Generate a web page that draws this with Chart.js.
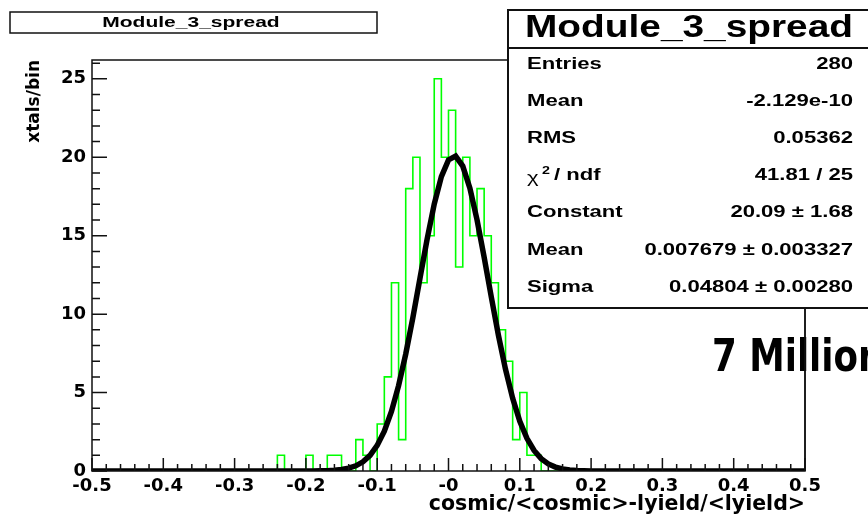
<!DOCTYPE html>
<html>
<head>
<meta charset="utf-8">
<script src="https://cdn.jsdelivr.net/npm/chart.js@4/dist/chart.umd.min.js"></script>
<style>
  body { margin: 0; background: #fff; }
  canvas { display: block; }
</style>
</head>
<body>
<canvas id="grafico" width="868" height="515"></canvas>
<script>
// histogram: low edge of each filled bin (width 0.01) and its count
const binWidth = 0.01;
const binLow = [-0.24, -0.20, -0.17, -0.16, -0.13, -0.12, -0.10, -0.09, -0.08, -0.07,
                -0.06, -0.05, -0.04, -0.03, -0.02, -0.01, 0.00, 0.01, 0.02, 0.03,
                0.04, 0.05, 0.06, 0.07, 0.08, 0.09, 0.10, 0.11, 0.12];
const binCount = [1, 1, 1, 1, 2, 1, 3, 6, 12, 2,
                  18, 20, 12, 15, 25, 20, 23, 13, 20, 15,
                  18, 15, 12, 9, 7, 2, 5, 1, 1];

// gaussian fit curve
const fitX = [-0.5, -0.20, -0.19, -0.18, -0.17, -0.16, -0.15, -0.14, -0.13, -0.12, -0.11,
              -0.10, -0.09, -0.08, -0.07, -0.06, -0.05, -0.04, -0.03, -0.02, -0.01,
              0.00, 0.01, 0.02, 0.03, 0.04, 0.05, 0.06, 0.07, 0.08, 0.09,
              0.10, 0.11, 0.12, 0.13, 0.14, 0.15, 0.16, 0.17, 0.18, 0.19, 0.20, 0.5];
const fitY = [0, 0.002, 0.004, 0.010, 0.022, 0.045, 0.092, 0.178, 0.331, 0.587, 0.999,
              1.63, 2.54, 3.80, 5.44, 7.45, 9.77, 12.28, 14.77, 17.02, 18.77,
              19.83, 20.07, 19.44, 18.03, 16.02, 13.63, 11.10, 8.66, 6.47, 4.63,
              3.17, 2.08, 1.31, 0.786, 0.452, 0.250, 0.132, 0.067, 0.032, 0.015, 0.007, 0];

const xTickLabels = ['-0.5', '-0.4', '-0.3', '-0.2', '-0.1', '-0', '0.1', '0.2', '0.3', '0.4', '0.5'];
const yTickLabels = ['0', '5', '10', '15', '20', '25'];

const histTitle = 'Module_3_spread';
const statNames = ['Entries', 'Mean', 'RMS', 'chi2', 'Constant', 'Mean', 'Sigma'];
const statValues = ['280', '-2.129e-10', '0.05362', '41.81 / 25', '20.09 \u00b1 1.68',
                    '0.007679 \u00b1 0.003327', '0.04804 \u00b1 0.00280'];
const sideNote = '7 Million';

// build the step outline of the histogram
const histPoints = [{ x: -0.5, y: 0 }];
let prevHi = -0.5;
binLow.forEach(function (lo, i) {
    const hi = Math.round((lo + binWidth) * 1000) / 1000;
    if (Math.abs(lo - prevHi) > 1e-6) {
        histPoints.push({ x: prevHi, y: 0 }, { x: lo, y: 0 });
    }
    histPoints.push({ x: lo, y: binCount[i] }, { x: hi, y: binCount[i] });
    prevHi = hi;
});
histPoints.push({ x: prevHi, y: 0 }, { x: 0.5, y: 0 });

const fitPoints = fitX.map(function (x, i) { return { x: x, y: fitY[i] }; });

const HELV = '"Liberation Sans", Arial, sans-serif';

function stretchText(ctx, text, x, y, font, sx, align) {
    ctx.save();
    ctx.font = font;
    ctx.textAlign = align;
    ctx.textBaseline = 'middle';
    ctx.translate(x, y);
    ctx.scale(sx, 1);
    ctx.fillText(text, 0, 0);
    ctx.restore();
}

const rootPlugin = {
    id: 'rootFrame',
    afterDatasetsDraw(chart) {
        const ctx = chart.ctx;
        const a = chart.chartArea;
        const x = chart.scales.x;
        const y = chart.scales.y;
        ctx.save();
        ctx.strokeStyle = '#111';
        ctx.lineWidth = 1.5;
        ctx.strokeRect(a.left, a.top, a.right - a.left, a.bottom - a.top);
        ctx.beginPath();
        for (let k = 0; k <= 50; k++) {
            const px = x.getPixelForValue(-0.5 + k * 0.02);
            const len = k % 5 === 0 ? 13 : 7;
            ctx.moveTo(px, a.bottom);
            ctx.lineTo(px, a.bottom - len);
        }
        for (let k = 0; k <= 26; k++) {
            const py = y.getPixelForValue(k);
            const len = k % 5 === 0 ? 15 : 8;
            ctx.moveTo(a.left, py);
            ctx.lineTo(a.left + len, py);
        }
        ctx.stroke();
        ctx.restore();
    },
    afterDraw(chart) {
        const ctx = chart.ctx;
        ctx.save();

        // title box top left
        ctx.fillStyle = '#fff';
        ctx.fillRect(10, 12, 367, 21);
        ctx.strokeStyle = '#111';
        ctx.lineWidth = 1.5;
        ctx.strokeRect(10, 12, 367, 21);
        ctx.fillStyle = '#000';
        stretchText(ctx, histTitle, 191, 22.5, 'bold 15px ' + HELV, 1.4, 'center');

        // stats box
        ctx.fillStyle = '#fff';
        ctx.fillRect(508, 10, 380, 298);
        ctx.lineWidth = 2;
        ctx.strokeRect(508, 10, 380, 298);
        ctx.beginPath();
        ctx.moveTo(508, 48);
        ctx.lineTo(870, 48);
        ctx.stroke();
        ctx.fillStyle = '#000';
        ctx.font = 'bold 32px ' + HELV;
        const tw = ctx.measureText(histTitle).width;
        stretchText(ctx, histTitle, 689, 28, 'bold 32px ' + HELV, 328 / tw, 'center');

        const rowY = [65, 102, 138.5, 176, 213, 250.5, 287.5];
        const rowFont = 'bold 16px ' + HELV;
        const sx = 1.38;
        statNames.forEach(function (name, i) {
            if (name === 'chi2') {
                stretchText(ctx, '\u03c7', 527, rowY[i] + 2, '17px ' + HELV, 1.3, 'left');
                stretchText(ctx, '2', 542, rowY[i] - 5, 'bold 11px ' + HELV, 1.3, 'left');
                stretchText(ctx, '/ ndf', 554, rowY[i], rowFont, sx, 'left');
            } else {
                stretchText(ctx, name, 527, rowY[i], rowFont, sx, 'left');
            }
            stretchText(ctx, statValues[i], 853, rowY[i], rowFont, sx, 'right');
        });

        // note on the right
        ctx.font = 'bold 44px "DejaVu Sans Condensed", "DejaVu Sans", sans-serif';
        const nw = ctx.measureText('7 Millio').width;
        ctx.save();
        ctx.translate(712, 371);
        ctx.scale(146 / nw, 1);
        ctx.textBaseline = 'alphabetic';
        ctx.textAlign = 'left';
        ctx.fillText(sideNote, 0, 0);
        ctx.restore();

        // frame edge redrawn over the note
        ctx.strokeStyle = '#111';
        ctx.lineWidth = 1.5;
        ctx.beginPath();
        ctx.moveTo(chart.chartArea.right, 309);
        ctx.lineTo(chart.chartArea.right, chart.chartArea.bottom);
        ctx.stroke();
        ctx.restore();
    }
};

const tickFont = { family: '"DejaVu Sans", sans-serif', weight: 'bold', size: 18 };

new Chart(document.getElementById('grafico'), {
    type: 'line',
    data: {
        datasets: [
            {
                label: 'fit',
                data: fitPoints,
                borderColor: '#000',
                borderWidth: 5.5,
                pointRadius: 0,
                tension: 0,
                order: 0
            },
            {
                label: histTitle,
                data: histPoints,
                borderColor: '#00ff00',
                borderWidth: 1.6,
                pointRadius: 0,
                tension: 0,
                order: 1
            }
        ]
    },
    options: {
        responsive: false,
        animation: false,
        layout: { padding: { top: 60, right: 63, left: 0, bottom: 0 } },
        plugins: {
            legend: { display: false },
            tooltip: { enabled: false }
        },
        scales: {
            x: {
                type: 'linear',
                min: -0.5,
                max: 0.5,
                afterFit: function (s) { s.height = 44; },
                grid: { display: false, drawTicks: false },
                border: { display: false },
                ticks: {
                    stepSize: 0.1,
                    includeBounds: false,
                    autoSkip: false,
                    maxRotation: 0,
                    padding: 5,
                    color: '#000',
                    font: tickFont,
                    callback: function (v, i) { return xTickLabels[i]; }
                },
                title: {
                    display: true,
                    text: 'cosmic/<cosmic>-lyield/<lyield>',
                    align: 'end',
                    color: '#000',
                    font: { family: '"DejaVu Sans", sans-serif', weight: 'bold', size: 20.5, lineHeight: 1 },
                    padding: { top: 0, bottom: 0 }
                }
            },
            y: {
                min: 0,
                max: 26.2,
                afterFit: function (s) { s.width = 92; },
                grid: { display: false, drawTicks: false },
                border: { display: false },
                ticks: {
                    stepSize: 5,
                    includeBounds: false,
                    padding: 6,
                    color: '#000',
                    font: tickFont,
                    callback: function (v, i) { return yTickLabels[i]; }
                },
                title: {
                    display: true,
                    text: 'xtals/bin',
                    align: 'end',
                    color: '#000',
                    font: { family: '"DejaVu Sans", sans-serif', weight: 'bold', size: 17 },
                    padding: { top: 24, bottom: 0 }
                }
            }
        }
    },
    plugins: [rootPlugin]
});
</script>
</body>
</html>
